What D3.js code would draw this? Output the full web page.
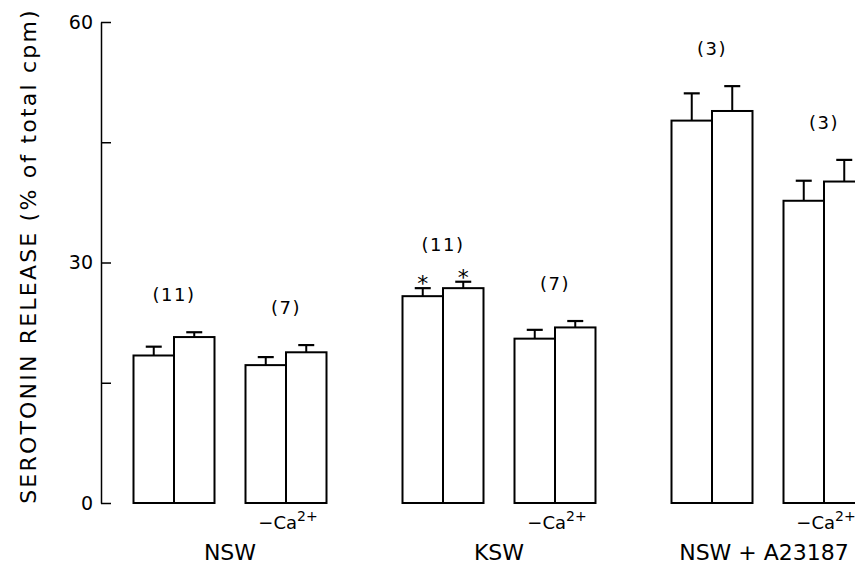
<!DOCTYPE html>
<html>
<head>
<meta charset="utf-8">
<script src="https://cdn.jsdelivr.net/npm/d3@7"></script>
<style>
  body { margin: 0; background: #fff; }
  svg { display: block; }
  text { font-family: "DejaVu Sans", sans-serif; fill: #000; }
</style>
</head>
<body>
<svg id="chart" width="855" height="575"></svg>
<script>
// clusters and the two conditions inside each (second one is without calcium)
const clusters = ["NSW", "KSW", "NSW + A23187"];
const conditions = ["normal", "noCa"];

// one value per pair, in order NSW, NSW -Ca, KSW, KSW -Ca, A23187, A23187 -Ca
const meanFirst = [18.4, 17.2, 25.8, 20.5, 47.7, 37.7];
const meanSecond = [20.7, 18.8, 26.8, 21.9, 48.9, 40.1];
const errFirst = [1.1, 1.0, 1.0, 1.1, 3.4, 2.5];
const errSecond = [0.6, 0.9, 0.8, 0.8, 3.1, 2.7];
const nLabels = ["(11)", "(7)", "(11)", "(7)", "(3)", "(3)"];
const starFirst = [false, false, true, false, false, false];
const starSecond = [false, false, true, false, false, false];

const yTicks = [0, 15, 30, 45, 60];
const yTickLabels = ["0", "", "30", "", "60"];

const svg = d3.select("#chart");

const y = d3.scaleLinear().domain([0, 60]).range([503, 22]);
const x0 = d3.scaleBand().domain(clusters).range([95.5, 902.5]);
const x1 = d3.scalePoint().domain(conditions).range([-56, 56]);
const xb = d3.scaleBand().domain([0, 1]).range([-40.5, 40.5]);

// build the pairs from the arrays
const pairs = [];
clusters.forEach((c, ci) => {
    conditions.forEach((cond, ki) => {
        const i = ci * 2 + ki;
        pairs.push({
            cluster: c,
            cond: cond,
            cx: x0(c) + x0.bandwidth() / 2 + x1(cond),
            label: nLabels[i],
            bars: [
                { k: 0, mean: meanFirst[i], err: errFirst[i], star: starFirst[i] },
                { k: 1, mean: meanSecond[i], err: errSecond[i], star: starSecond[i] }
            ]
        });
    });
});

// y axis, ticks pointing inward
const axis = d3.axisLeft(y)
    .tickValues(yTicks)
    .tickSizeInner(-10)
    .tickSizeOuter(0)
    .tickPadding(8)
    .tickFormat((d, i) => yTickLabels[i]);

const gAxis = svg.append("g")
    .attr("transform", "translate(101,0)")
    .call(axis);
gAxis.select(".domain").attr("stroke", "#000").attr("stroke-width", 1.5);
gAxis.selectAll(".tick line").attr("stroke", "#000").attr("stroke-width", 1.5);
gAxis.selectAll(".tick text")
    .attr("font-size", 19)
    .attr("font-family", "DejaVu Sans, sans-serif");

svg.append("text")
    .attr("transform", "translate(30,256) rotate(-90)")
    .attr("text-anchor", "middle")
    .attr("dominant-baseline", "middle")
    .attr("font-size", 22)
    .attr("letter-spacing", 2.2)
    .text("SEROTONIN RELEASE (% of total cpm)");

// bars
pairs.forEach(p => {
    const g = svg.append("g").attr("transform", "translate(" + p.cx + ",0)");

    g.selectAll("rect")
        .data(p.bars)
        .enter()
        .append("rect")
        .attr("x", d => xb(d.k))
        .attr("y", d => y(d.mean))
        .attr("width", xb.bandwidth())
        .attr("height", d => y(0) - y(d.mean))
        .attr("fill", "#fff")
        .attr("stroke", "#000")
        .attr("stroke-width", 2);

    // error bars, upper half only
    p.bars.forEach(d => {
        const bx = xb(d.k) + xb.bandwidth() / 2;
        g.append("line")
            .attr("x1", bx).attr("x2", bx)
            .attr("y1", y(d.mean)).attr("y2", y(d.mean + d.err))
            .attr("stroke", "#000").attr("stroke-width", 2);
        g.append("line")
            .attr("x1", bx - 8).attr("x2", bx + 8)
            .attr("y1", y(d.mean + d.err)).attr("y2", y(d.mean + d.err))
            .attr("stroke", "#000").attr("stroke-width", 2.2);
        if (d.star) {
            g.append("text")
                .attr("x", bx)
                .attr("y", y(d.mean + d.err) + 3)
                .attr("text-anchor", "middle")
                .attr("font-size", 22)
                .text("*");
        }
    });

    const top = d3.max(p.bars, d => d.mean + d.err);
    g.append("text")
        .attr("x", 0)
        .attr("y", y(top) - 36)
        .attr("text-anchor", "middle")
        .attr("dominant-baseline", "middle")
        .attr("font-size", 18)
        .attr("letter-spacing", 1.5)
        .text(p.label);

    if (p.cond === "noCa") {
        const t = g.append("text")
            .attr("x", 2)
            .attr("y", 529)
            .attr("text-anchor", "middle")
            .attr("font-size", 18);
        t.append("tspan").text("\u2212Ca");
        t.append("tspan").attr("dy", -8).attr("font-size", 14).text("2+");
    }
});

// cluster names
svg.selectAll(".cluster-label")
    .data(clusters)
    .enter()
    .append("text")
    .attr("class", "cluster-label")
    .attr("x", d => Math.min(x0(d) + x0.bandwidth() / 2, 764))
    .attr("y", 560)
    .attr("text-anchor", "middle")
    .attr("font-size", 22)
    .text(d => d);
</script>
</body>
</html>
